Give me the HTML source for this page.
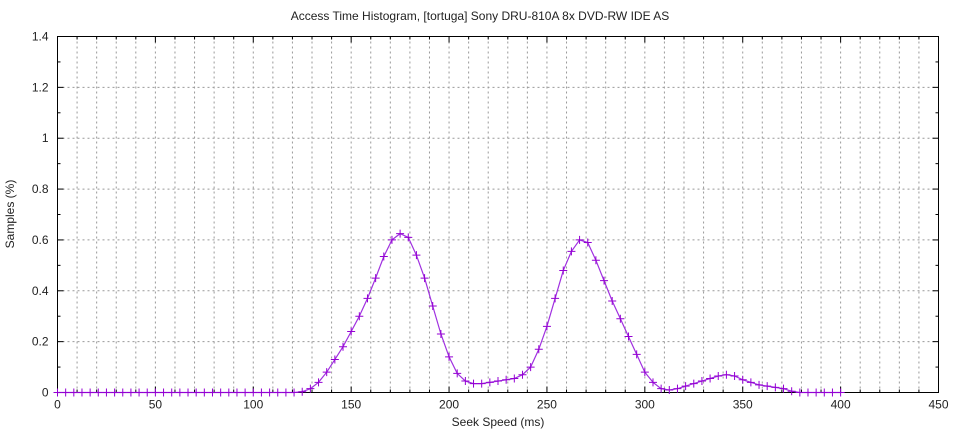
<!DOCTYPE html>
<html><head><meta charset="utf-8"><style>
html,body{margin:0;padding:0;background:#fff;}
svg text{font-family:"Liberation Sans",sans-serif;font-size:12px;fill:#222;}
</style></head><body>
<svg id="s" width="960" height="432" xmlns="http://www.w3.org/2000/svg"></svg>
<script>
const s=document.getElementById('s');
const L=57.5,R=938.5,T=36.5,B=392.5;
const X=v=>L+(R-L)*v/450, Y=v=>B-(B-T)*v/1.4;
let h='';
// grid
for(let v=10;v<450;v+=10){const x=X(v);h+=`<line x1="${x}" y1="${T}" x2="${x}" y2="${B}" stroke="#999" stroke-dasharray="2,3"/>`;}
for(let v=0.2;v<1.39;v+=0.2){const y=Y(v);h+=`<line x1="${L}" y1="${y}" x2="${R}" y2="${y}" stroke="#999" stroke-dasharray="2,3"/>`;}
// ticks
for(let v=0;v<=450;v+=10){const x=X(v);const l=v%50==0?6:3;h+=`<line x1="${x}" y1="${B}" x2="${x}" y2="${B-l}" stroke="#000"/><line x1="${x}" y1="${T}" x2="${x}" y2="${T+l}" stroke="#000"/>`;
 if(v%50==0)h+=`<text x="${x}" y="${B+16}" text-anchor="middle">${v}</text>`;}
for(let i=0;i<=14;i++){const v=i/10,y=Y(v);const l=i%2==0?6:3;h+=`<line x1="${L}" y1="${y}" x2="${L+l}" y2="${y}" stroke="#000"/><line x1="${R}" y1="${y}" x2="${R-l}" y2="${y}" stroke="#000"/>`;
 if(i%2==0)h+=`<text x="${L-9}" y="${y+4}" text-anchor="end">${i==0?'0':(i==10?'1':v.toFixed(1).replace(/0$/,''))}</text>`;}
h+=`<rect x="${L}" y="${T}" width="${R-L}" height="${B-T}" fill="none" stroke="#000"/>`;
h+=`<text x="480" y="20" text-anchor="middle">Access Time Histogram, [tortuga] Sony DRU-810A 8x DVD-RW IDE AS</text>`;
h+=`<text x="498" y="426" text-anchor="middle">Seek Speed (ms)</text>`;
h+=`<text transform="translate(14,214) rotate(-90)" text-anchor="middle">Samples (%)</text>`;
const d={30:0.003,31:0.015,32:0.04,33:0.08,34:0.13,35:0.18,36:0.24,37:0.30,38:0.37,39:0.45,40:0.535,41:0.60,42:0.625,43:0.61,44:0.54,45:0.45,46:0.34,47:0.23,48:0.14,49:0.075,50:0.045,51:0.035,52:0.035,53:0.04,54:0.045,55:0.05,56:0.055,57:0.07,58:0.10,59:0.17,60:0.26,61:0.37,62:0.48,63:0.555,64:0.60,65:0.59,66:0.52,67:0.44,68:0.36,69:0.29,70:0.22,71:0.15,72:0.08,73:0.04,74:0.015,75:0.01,76:0.015,77:0.025,78:0.035,79:0.045,80:0.055,81:0.065,82:0.07,83:0.065,84:0.05,85:0.04,86:0.03,87:0.025,88:0.02,89:0.015,90:0.005};
let pts=[];
for(let i=0;i<=96;i++){pts.push([X(i*400/96),Y(d[i]||0)]);}
h+=`<polyline fill="none" stroke="#a030e0" stroke-width="1.2" points="${pts.map(p=>p[0].toFixed(1)+','+p[1].toFixed(1)).join(' ')}"/>`;
for(const [x,y] of pts){h+=`<path d="M${x-4},${y}H${x+4}M${x},${y-4}V${y+4}" stroke="#9400d3" stroke-width="1"/>`;}
s.innerHTML=h;
</script>
</body></html>
